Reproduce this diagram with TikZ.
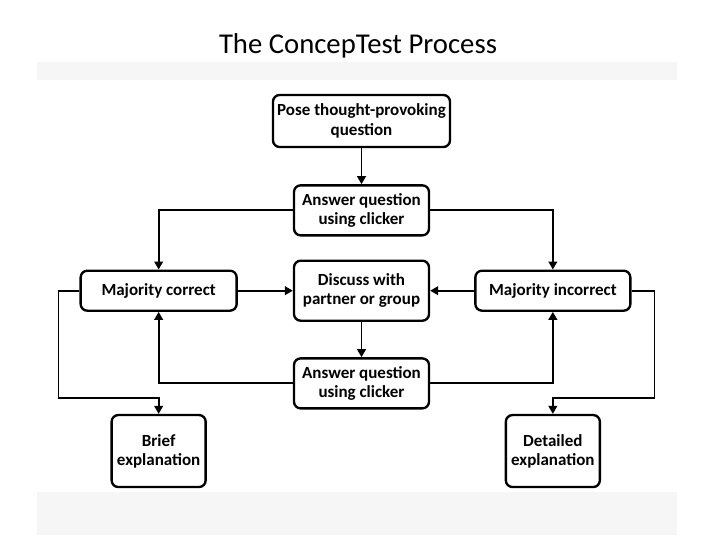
\documentclass[tikz,border=0pt]{standalone}
\usepackage{fontspec}
\setmainfont{Carlito}
\usetikzlibrary{arrows.meta,positioning}
\definecolor{bandGray}{gray}{0.965}
\tikzset{
  stepbox/.style={rectangle, rounded corners=2mm, draw=black, line width=2pt, align=center, inner sep=0pt, font=\bfseries\fontsize{14.5}{16.5}\selectfont},
  link/.style={-{Triangle[length=2.4mm,width=2.6mm]}, line width=1.6pt}
}
\begin{document}
\begin{tikzpicture}[x=0.03cm, y=-0.03cm, node distance=7mm]
  \useasboundingbox (0,0) rectangle (720,540);
  \fill[bandGray] (37,62) rectangle (677,535);
  \fill[white] (37,80) rectangle (677,492);
  \node[font=\fontsize{24.5}{28}\selectfont] (title) at (358,46) {The ConcepTest Process};
  % middle column
  \node[stepbox, minimum width=5.31cm, minimum height=1.56cm] (pose) at (361.5,121) {Pose thought-provoking\\question};
  \node[stepbox, minimum width=4.05cm, minimum height=1.5cm, below=1.08cm of pose] (ans1) {Answer question\\using clicker};
  \node[stepbox, minimum width=4.05cm, minimum height=1.8cm, below=0.69cm of ans1] (discuss) {Discuss with\\partner or group};
  \node[stepbox, minimum width=4.05cm, minimum height=1.5cm, below=1.06cm of discuss] (ans2) {Answer question\\using clicker};
  % sides
  \node[stepbox, minimum width=4.68cm, minimum height=1.2cm, left=1.65cm of discuss] (correct) {Majority correct};
  \node[stepbox, minimum width=4.65cm, minimum height=1.2cm, right=1.32cm of discuss] (incorrect) {Majority incorrect};
  \node[stepbox, minimum width=2.82cm, minimum height=2.16cm, below=3.06cm of correct] (brief) {Brief\\explanation};
  \node[stepbox, minimum width=2.82cm, minimum height=2.16cm, below=3.06cm of incorrect] (detailed) {Detailed\\explanation};
  \coordinate[above=0.48cm of brief] (briefIn);
  \coordinate[above=0.48cm of detailed] (detailedIn);

  \draw[link] (pose) -- (ans1);
  \draw[link] (ans1.west) -| (correct.north);
  \draw[link] (ans1.east) -| (incorrect.north);
  \draw[link] (correct) -- (discuss);
  \draw[link] (incorrect) -- (discuss);
  \draw[link] (discuss) -- (ans2);
  \draw[link] (ans2.west) -| (correct.south);
  \draw[link] (ans2.east) -| (incorrect.south);
  \draw[link] (correct.west) -- ++(-0.63cm,0) |- (briefIn) -- (brief);
  \draw[link] (incorrect.east) -- ++(0.69cm,0) |- (detailedIn) -- (detailed);
\end{tikzpicture}
\end{document}
